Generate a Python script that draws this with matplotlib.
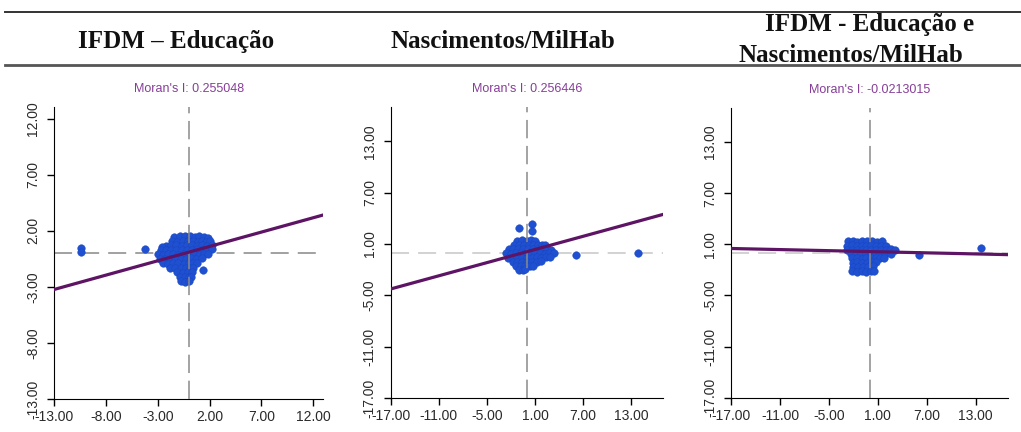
import matplotlib.pyplot as plt
import numpy as np
from matplotlib.lines import Line2D

plt.rcParams['font.family'] = ['Liberation Sans', 'DejaVu Sans']

# cabeçalhos da tabela
cab_educ = "IFDM – Educação"
cab_nasc = "Nascimentos/MilHab"
cab_biv_1 = "IFDM - Educação e"
cab_biv_2 = "Nascimentos/MilHab"

titulos = ["Moran's I: 0.255048", "Moran's I: 0.256446", "Moran's I: -0.0213015"]
inclinacao = [0.255048, 0.256446, -0.0213015]
intercepto = [0.1, 0.1, 0.15]
limites = [13, 17, 17]
ticks_educ = [-13, -8, -3, 2, 7, 12]
ticks_nasc = [-17, -11, -5, 1, 7, 13]

# pontos (valor padronizado, defasagem espacial)
pts_educ = [
    (-1.4, 1.48), (-0.9, 1.52), (-0.4, 1.5), (0.1, 1.55), (0.6, 1.47), (1.0, 1.5), (1.5, 1.45), (1.9, 1.4),
    (-1.6, 1.1), (-1.1, 1.05), (-0.6, 1.12), (-0.1, 1.08), (0.4, 1.1), (0.9, 1.05), (1.3, 1.12), (1.7, 1.0), (2.0, 1.08),
    (-2.2, 0.68), (-1.7, 0.72), (-1.2, 0.7), (-0.7, 0.66), (-0.2, 0.7), (0.3, 0.74), (0.8, 0.68), (1.3, 0.7),
    (1.8, 0.66), (2.2, 0.72), (-2.6, 0.6),
    (-2.7, 0.3), (-2.2, 0.26), (-1.7, 0.32), (-1.2, 0.28), (-0.7, 0.3), (-0.2, 0.25), (0.3, 0.3), (0.8, 0.34),
    (1.3, 0.28), (1.8, 0.3), (2.2, 0.36),
    (-3.0, -0.1), (-2.5, -0.12), (-2.0, -0.08), (-1.5, -0.1), (-1.0, -0.14), (-0.5, -0.1), (0.0, -0.06),
    (0.5, -0.1), (1.0, -0.12), (1.5, -0.08), (1.9, -0.05),
    (-2.8, -0.5), (-2.3, -0.52), (-1.8, -0.48), (-1.3, -0.5), (-0.8, -0.54), (-0.3, -0.5), (0.2, -0.46),
    (0.7, -0.5), (1.3, -0.45),
    (-2.5, -0.9), (-2.0, -0.92), (-1.5, -0.88), (-1.0, -0.9), (-0.5, -0.94), (0.0, -0.9), (0.4, -0.86), (0.8, -0.9),
    (-1.8, -1.3), (-1.3, -1.32), (-0.8, -1.28), (-0.3, -1.3), (0.1, -1.34), (0.4, -1.28),
    (-1.1, -1.7), (-0.6, -1.72), (-0.1, -1.68), (0.3, -1.7),
    (-0.9, -2.1), (-0.4, -2.12), (0.0, -2.08), (0.2, -2.1),
    (-0.8, -2.5), (-0.4, -2.55), (0.0, -2.48),
    (1.4, -1.5), (-4.2, 0.4), (-10.4, 0.5), (-10.4, 0.15),
]

pts_nasc = [
    (-1.2, 1.4), (-0.6, 1.45), (0.0, 1.38), (0.5, 1.42), (1.0, 1.35),
    (-1.6, 0.9), (-1.0, 0.88), (-0.4, 0.92), (0.2, 0.9), (0.8, 0.86), (1.4, 0.92), (1.9, 0.88), (2.3, 0.85),
    (-2.3, 0.4), (-1.7, 0.38), (-1.1, 0.42), (-0.5, 0.4), (0.1, 0.36), (0.7, 0.4), (1.3, 0.44), (1.9, 0.4),
    (2.5, 0.38), (3.0, 0.35),
    (-2.6, -0.1), (-2.0, -0.12), (-1.4, -0.08), (-0.8, -0.1), (-0.2, -0.14), (0.4, -0.1), (1.0, -0.06),
    (1.6, -0.1), (2.2, -0.12), (2.8, -0.08), (3.4, -0.05),
    (-2.4, -0.6), (-1.8, -0.62), (-1.2, -0.58), (-0.6, -0.6), (0.0, -0.64), (0.6, -0.6), (1.2, -0.56),
    (1.8, -0.6), (2.4, -0.58), (2.9, -0.55),
    (-1.8, -1.1), (-1.2, -1.12), (-0.6, -1.08), (0.0, -1.1), (0.6, -1.14), (1.2, -1.1), (1.8, -1.05),
    (-1.4, -1.6), (-0.8, -1.62), (-0.2, -1.58), (0.4, -1.6), (0.7, -1.55),
    (-1.0, -2.0), (-0.5, -2.05), (-0.2, -1.98),
    (-1.05, 2.9), (0.6, 3.35), (0.6, 2.55), (6.1, -0.25), (13.8, 0.0),
]

pts_biv = [
    (-2.7, 1.35), (-2.1, 1.4), (-1.5, 1.33), (-0.9, 1.38), (-0.3, 1.35), (0.3, 1.4), (0.9, 1.32), (1.5, 1.36),
    (-2.8, 0.85), (-2.2, 0.88), (-1.6, 0.82), (-1.0, 0.86), (-0.4, 0.84), (0.2, 0.88), (0.8, 0.85), (1.4, 0.82),
    (2.0, 0.86),
    (-2.8, 0.35), (-2.2, 0.32), (-1.6, 0.38), (-1.0, 0.35), (-0.4, 0.33), (0.2, 0.36), (0.8, 0.34), (1.4, 0.38),
    (2.0, 0.35), (2.6, 0.4), (3.1, 0.36),
    (-2.3, -0.15), (-1.7, -0.12), (-1.1, -0.18), (-0.5, -0.15), (0.1, -0.13), (0.7, -0.16), (1.3, -0.14),
    (1.9, -0.15), (2.6, -0.1),
    (-2.2, -0.65), (-1.6, -0.62), (-1.0, -0.68), (-0.4, -0.65), (0.2, -0.63), (0.8, -0.66), (1.3, -0.64),
    (1.7, -0.6),
    (-2.1, -1.15), (-1.5, -1.12), (-0.9, -1.18), (-0.3, -1.15), (0.3, -1.13), (0.8, -1.1),
    (-2.0, -1.65), (-1.4, -1.62), (-0.8, -1.68), (-0.2, -1.65), (0.4, -1.6),
    (-2.2, -2.15), (-1.6, -2.2), (-1.0, -2.15), (-0.4, -2.2), (0.2, -2.15), (0.5, -2.1),
    (6.0, -0.25), (13.7, 0.6),
]

posicoes = [
    [0.0532, 0.0757, 0.2635, 0.6759],
    [0.3827, 0.0787, 0.2670, 0.6736],
    [0.7160, 0.0794, 0.2716, 0.6706],
]
cor_horiz = ['#9a9a9a', '#cfcfcf', '#cfcfcf']

fig = plt.figure(figsize=(10.21, 4.32), dpi=100)

for i, pts in enumerate([pts_educ, pts_nasc, pts_biv]):
    ax = fig.add_axes(posicoes[i])
    pts = np.array(pts)
    lim = limites[i]
    ticks = ticks_educ if i == 0 else ticks_nasc

    ax.axhline(0, color=cor_horiz[i], lw=1.3, ls=(0, (10, 5)), zorder=1)
    ax.scatter(pts[:, 0], pts[:, 1], s=30, color='#1f50d2', edgecolors='#1745b8',
               linewidths=0.3, zorder=2)
    ax.axvline(0, color='#8a8a8a', lw=1.1, ls=(0, (12, 5)), zorder=3)
    xs = np.array([-lim, lim])
    ax.plot(xs, inclinacao[i] * xs + intercepto[i], color='#5e1464', lw=2.3, zorder=4)

    ax.set_xlim(-lim, lim)
    ax.set_ylim(-lim, lim)
    ax.set_xticks(ticks)
    ax.set_yticks(ticks)
    ax.set_xticklabels(['%.2f' % t for t in ticks])
    ax.set_yticklabels(['%.2f' % t for t in ticks], rotation=90, va='center')
    ax.spines['top'].set_visible(False)
    ax.spines['right'].set_visible(False)
    ax.tick_params(length=5, width=1, labelsize=10, labelcolor='#2a2a2a', pad=3)
    ax.tick_params(axis='y', pad=5)
    ax.set_title(titulos[i], fontsize=9, color='#873e98', pad=11)

# filetes e cabeçalhos da tabela
fig.add_artist(Line2D([0.005, 1.0], [1 - 12 / 432, 1 - 12 / 432], color='#333333', lw=1.4))
fig.add_artist(Line2D([0.005, 1.0], [1 - 65 / 432, 1 - 65 / 432], color='#555555', lw=2.0))

serif = dict(family=['Liberation Serif', 'DejaVu Serif'], fontweight='bold', fontsize=18,
             ha='center', va='baseline', color='#111111')
fig.text(176 / 1021, 1 - 48 / 432, cab_educ, **serif)
fig.text(503 / 1021, 1 - 48 / 432, cab_nasc, **serif)
fig.text(870 / 1021, 1 - 31 / 432, cab_biv_1, **serif)
fig.text(851 / 1021, 1 - 62 / 432, cab_biv_2, **serif)

fig.savefig('out.png', dpi=100)
